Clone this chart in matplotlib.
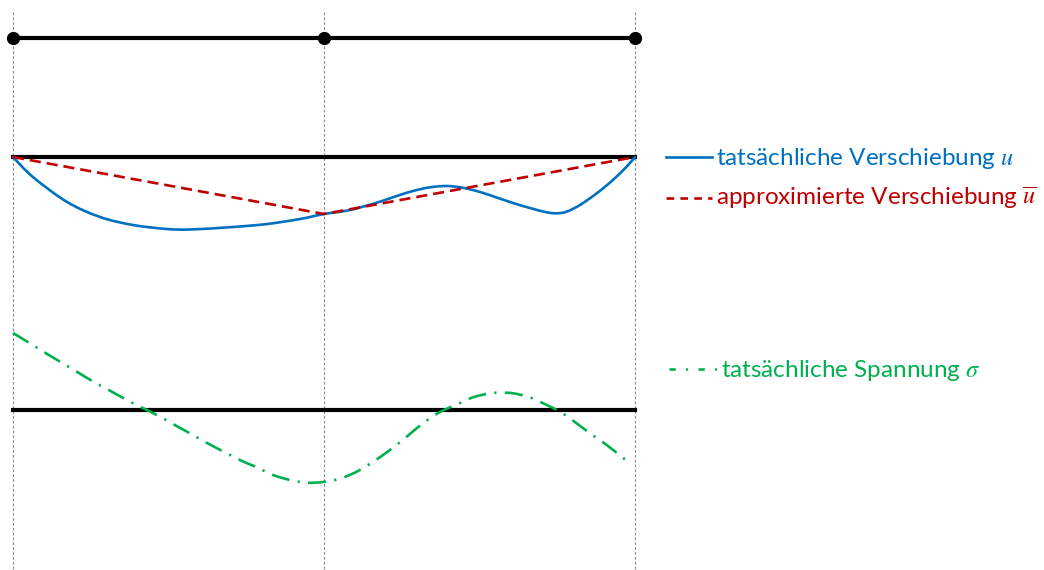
import matplotlib
matplotlib.use("Agg")
import matplotlib.pyplot as plt
from matplotlib.path import Path
from matplotlib.patches import PathPatch

plt.rcParams['mathtext.fontset'] = 'stix'
plt.rcParams['lines.scale_dashes'] = False

# element nodes along the bar (element coordinate)
nodes = [0.0, 1.0, 2.0]

# actual displacement u (downward negative)
u_x = [0.0, 0.064, 0.174, 0.280, 0.386, 0.495, 0.569, 0.707, 0.817, 0.923, 1.0,
       1.073, 1.125, 1.180, 1.234, 1.286, 1.341, 1.395, 1.447, 1.502, 1.555,
       1.608, 1.662, 1.716, 1.748, 1.780, 1.823, 1.877, 1.929, 1.973, 2.0]
u_val = [0, -20, -45, -60, -68, -72, -72.5, -70, -67, -62, -57,
         -53.7, -49.7, -44.7, -39, -34, -30.3, -29, -30.8, -35, -40.5,
         -46, -51, -55.3, -56.3, -54.7, -48, -36.3, -23, -9.7, 0]

# approximated (piecewise linear) displacement u-bar at the nodes
ubar_val = [0, -57, 0]

# actual stress sigma
s_x = [0.0, 0.058, 0.106, 0.157, 0.208, 0.262, 0.312, 0.366, 0.419, 0.473,
       0.526, 0.575, 0.624, 0.730, 0.784, 0.836, 0.891, 0.944, 0.997, 1.051,
       1.105, 1.158, 1.212, 1.266, 1.318, 1.373, 1.427, 1.479, 1.534, 1.566,
       1.608, 1.662, 1.716, 1.759, 1.801, 1.855, 1.909, 1.973]
s_val = [77, 66, 56.7, 47.3, 37.7, 27.7, 19.3, 10, 1.7, -6.7,
         -16, -24.3, -33, -50, -57.3, -65, -70, -72.7, -72, -68.7,
         -61.7, -51.7, -40, -26.7, -13.3, -2, 5.5, 12.7, 16.7, 17.3,
         16.7, 12.7, 5, -1.7, -10.7, -23.3, -35, -50.7]

labels = ["tatsächliche Verschiebung $u$",
          "approximierte Verschiebung $\\overline{u}$",
          "tatsächliche Spannung $\\sigma$"]

BLUE, RED, GREEN = "#0070C0", "#C00000", "#00B050"

W, H = 1044, 570
fig = plt.figure(figsize=(W / 100, H / 100), dpi=100)
ax = fig.add_axes([0, 0, 1, 1])
ax.set_xlim(-13 / 311, (W - 13) / 311)
ax.set_ylim(-H, 0)
ax.axis("off")

# baselines of the three sketches
y_beam, y_u, y_s = -38, -157, -410


def smooth_path(xs, ys):
    """Cubic Bezier path passing through every given point (Catmull-Rom tangents)."""
    pts = list(zip(xs, ys))
    n = len(pts)
    verts = [pts[0]]
    codes = [Path.MOVETO]
    for i in range(n - 1):
        p0 = pts[max(i - 1, 0)]
        p1 = pts[i]
        p2 = pts[i + 1]
        p3 = pts[min(i + 2, n - 1)]
        c1 = (p1[0] + (p2[0] - p0[0]) / 6, p1[1] + (p2[1] - p0[1]) / 6)
        c2 = (p2[0] - (p3[0] - p1[0]) / 6, p2[1] - (p3[1] - p1[1]) / 6)
        verts += [c1, c2, p2]
        codes += [Path.CURVE4] * 3
    return Path(verts, codes)


# vertical guides through the nodes
for xn in nodes:
    ax.plot([xn, xn], [-12, -H], color="#8a8a8a", lw=0.8,
            linestyle=(0, (2.0, 1.5)), zorder=1)

# beam with nodes
ax.plot([nodes[0], nodes[-1]], [y_beam, y_beam], color="black", lw=3.0, zorder=2)
ax.plot(nodes, [y_beam] * len(nodes), "o", color="black", ms=8.5, zorder=3)

# reference axes for u and sigma
ax.plot([nodes[0], nodes[-1]], [y_u, y_u], color="black", lw=3.0, zorder=2)
ax.plot([nodes[0], nodes[-1]], [y_s, y_s], color="black", lw=3.0, zorder=2)

blue = PathPatch(smooth_path(u_x, [y_u + v for v in u_val]), fill=False,
                 edgecolor=BLUE, lw=1.9, zorder=4, joinstyle="round",
                 capstyle="round")
ax.add_patch(blue)
ax.plot(nodes, [y_u + v for v in ubar_val], color=RED, lw=1.9, zorder=5,
        linestyle=(0, (8.0, 4.3)), dash_capstyle="butt")
green = PathPatch(smooth_path(s_x, [y_s + v for v in s_val]), fill=False,
                  edgecolor=GREEN, lw=1.9, zorder=4, capstyle="butt",
                  linestyle=(0, (13.0, 6.0, 1.6, 6.0)))
ax.add_patch(green)


def px(x, y):
    return x / W, 1 - y / H


def legend_line(x0, x1, y, **kw):
    (a, b), (c, d) = px(x0, y), px(x1, y)
    fig.add_artist(plt.Line2D([a, c], [b, d], transform=fig.transFigure, **kw))


legend_line(666, 712, 157, color=BLUE, lw=1.9)
legend_line(666, 712, 198, color=RED, lw=1.9, linestyle=(0, (5.5, 4.5)))
legend_line(669, 720, 369, color=GREEN, lw=1.9,
            linestyle=(0, (4.5, 7.5, 1.4, 7.5)))

font = dict(family="Lato", fontsize=17.5)
for (x, y), txt, col in zip([(716, 165), (716, 205), (721, 377)], labels,
                            [BLUE, RED, GREEN]):
    fx, fy = px(x, y)
    fig.text(fx, fy, txt, color=col, ha="left", va="baseline", **font)

fig.savefig("out.png", dpi=100)
